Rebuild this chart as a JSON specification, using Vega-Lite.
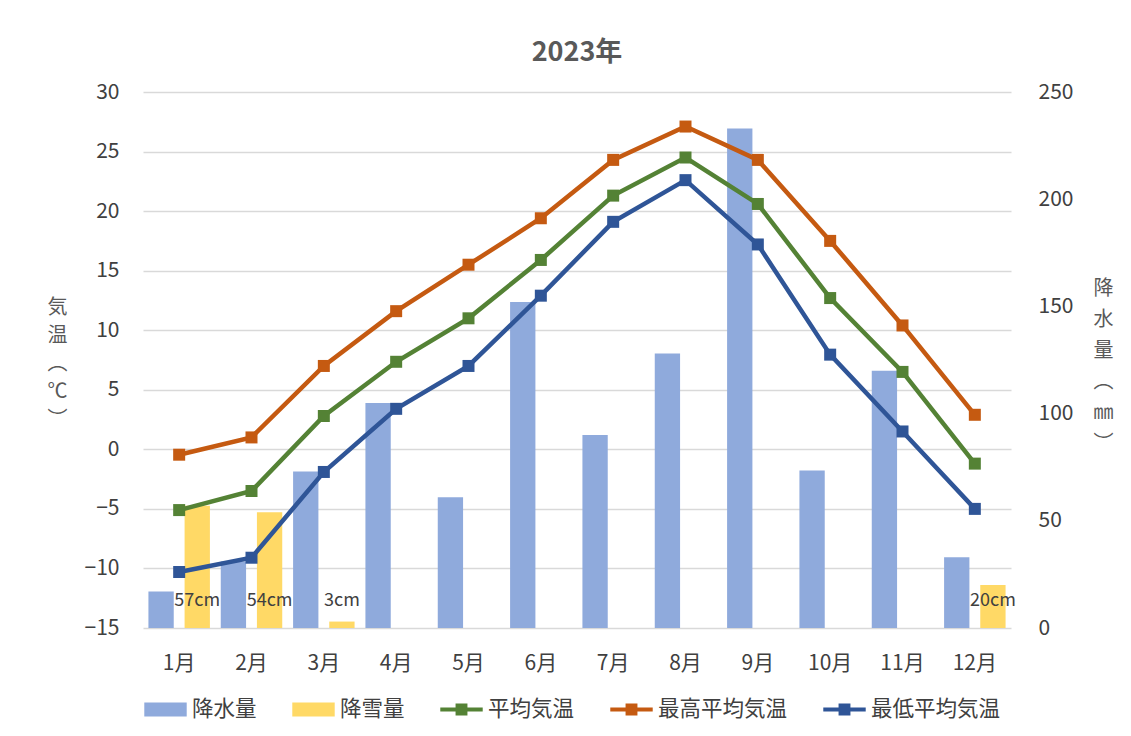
{
  "$schema": "https://vega.github.io/schema/vega-lite/v6.json",
  "width": 868,
  "height": 536,
  "autosize": {"type": "none"},
  "padding": {"left": 143, "top": 92, "right": 120, "bottom": 108},
  "background": "white",
  "title": {"text": "2023年", "fontSize": 27, "fontWeight": "bold", "color": "#595959", "font": "Noto Sans CJK JP", "anchor": "middle", "frame": "group", "offset": 14},
  "config": {
    "view": {"stroke": null},
    "font": "Noto Sans CJK JP",
    "axis": {
      "labelFont": "Noto Sans CJK JP",
      "labelFontSize": 21,
      "labelColor": "#404040",
      "domain": false,
      "ticks": false,
      "gridColor": "#d9d9d9",
      "gridWidth": 1.3,
      "titleFont": "Noto Sans CJK JP",
      "titleFontSize": 20,
      "titleFontWeight": "normal",
      "titleColor": "#595959"
    }
  },
  "datasets": {
    "precip": [
      {"month": "1月", "series": "降水量", "mm": 17},
      {"month": "1月", "series": "降雪量", "mm": 57},
      {"month": "2月", "series": "降水量", "mm": 31},
      {"month": "2月", "series": "降雪量", "mm": 54},
      {"month": "3月", "series": "降水量", "mm": 73},
      {"month": "3月", "series": "降雪量", "mm": 3},
      {"month": "4月", "series": "降水量", "mm": 105},
      {"month": "5月", "series": "降水量", "mm": 61},
      {"month": "6月", "series": "降水量", "mm": 152},
      {"month": "7月", "series": "降水量", "mm": 90},
      {"month": "8月", "series": "降水量", "mm": 128},
      {"month": "9月", "series": "降水量", "mm": 233},
      {"month": "10月", "series": "降水量", "mm": 73.5},
      {"month": "11月", "series": "降水量", "mm": 120},
      {"month": "12月", "series": "降水量", "mm": 33},
      {"month": "12月", "series": "降雪量", "mm": 20}
    ],
    "temps": [
      {"month": "1月", "series": "平均気温", "temp": -5.1},
      {"month": "2月", "series": "平均気温", "temp": -3.5},
      {"month": "3月", "series": "平均気温", "temp": 2.8},
      {"month": "4月", "series": "平均気温", "temp": 7.35},
      {"month": "5月", "series": "平均気温", "temp": 11.0},
      {"month": "6月", "series": "平均気温", "temp": 15.9},
      {"month": "7月", "series": "平均気温", "temp": 21.3},
      {"month": "8月", "series": "平均気温", "temp": 24.5},
      {"month": "9月", "series": "平均気温", "temp": 20.6},
      {"month": "10月", "series": "平均気温", "temp": 12.7},
      {"month": "11月", "series": "平均気温", "temp": 6.5},
      {"month": "12月", "series": "平均気温", "temp": -1.2},
      {"month": "1月", "series": "最高平均気温", "temp": -0.45},
      {"month": "2月", "series": "最高平均気温", "temp": 1.0},
      {"month": "3月", "series": "最高平均気温", "temp": 7.0},
      {"month": "4月", "series": "最高平均気温", "temp": 11.6},
      {"month": "5月", "series": "最高平均気温", "temp": 15.5},
      {"month": "6月", "series": "最高平均気温", "temp": 19.4},
      {"month": "7月", "series": "最高平均気温", "temp": 24.3},
      {"month": "8月", "series": "最高平均気温", "temp": 27.1},
      {"month": "9月", "series": "最高平均気温", "temp": 24.3},
      {"month": "10月", "series": "最高平均気温", "temp": 17.5},
      {"month": "11月", "series": "最高平均気温", "temp": 10.4},
      {"month": "12月", "series": "最高平均気温", "temp": 2.9},
      {"month": "1月", "series": "最低平均気温", "temp": -10.3},
      {"month": "2月", "series": "最低平均気温", "temp": -9.1},
      {"month": "3月", "series": "最低平均気温", "temp": -1.9},
      {"month": "4月", "series": "最低平均気温", "temp": 3.4},
      {"month": "5月", "series": "最低平均気温", "temp": 7.0},
      {"month": "6月", "series": "最低平均気温", "temp": 12.9},
      {"month": "7月", "series": "最低平均気温", "temp": 19.1},
      {"month": "8月", "series": "最低平均気温", "temp": 22.6},
      {"month": "9月", "series": "最低平均気温", "temp": 17.2},
      {"month": "10月", "series": "最低平均気温", "temp": 7.95},
      {"month": "11月", "series": "最低平均気温", "temp": 1.5},
      {"month": "12月", "series": "最低平均気温", "temp": -5.0}
    ]
  },
  "resolve": {"scale": {"y": "independent"}},
  "layer": [
    {
      "data": {"name": "precip"},
      "layer": [
        {
          "mark": {"type": "bar"},
          "encoding": {
            "x": {"field": "month", "type": "nominal", "sort": ["1月","2月","3月","4月","5月","6月","7月","8月","9月","10月","11月","12月"], "scale": {"paddingInner": 0.15, "paddingOuter": 0.075}, "axis": {"title": null, "labelAngle": 0, "labelPadding": 24}},
            "xOffset": {"field": "series", "type": "nominal", "scale": {"domain": ["降水量", "降雪量"], "paddingInner": 0.3, "paddingOuter": 0}},
            "y": {"field": "mm", "type": "quantitative", "scale": {"domain": [0, 250], "nice": false}, "axis": {"orient": "right", "values": [0, 50, 100, 150, 200, 250], "grid": false, "labelPadding": 27, "title": ["降", "水", "量", "︵", "㎜", "︶"], "titleAngle": 0, "titleX": 92, "titleY": 196, "titleAlign": "center", "titleBaseline": "middle", "titleLineHeight": 31}},
            "color": {
              "field": "series",
              "type": "nominal",
              "scale": {"domain": ["降水量", "降雪量", "平均気温", "最高平均気温", "最低平均気温"], "range": ["#8FAADC", "#FFD966", "#548235", "#C55A11", "#2F5597"]},
              "legend": {
                "orient": "none",
                "legendX": 1,
                "legendY": 596,
                "direction": "horizontal",
                "columns": 5,
                "title": null,
                "labelFont": "Noto Sans CJK JP",
                "labelFontSize": 21.5,
                "labelColor": "#404040",
                "labelOffset": 5,
                "symbolSize": 1800,
                "columnPadding": 35,
                "encode": {
                  "symbols": {
                    "update": {
                      "shape": {"signal": "indexof(['降水量','降雪量'], datum.value) >= 0 ? 'M-1,-0.33H1V0.33H-1Z' : 'M-1,-0.09H1V0.09H-1Z M-0.28,-0.28H0.28V0.28H-0.28Z'"},
                      "size": {"value": 1800},
                      "fill": {"scale": "color", "field": "value"},
                      "strokeWidth": {"value": 0},
                      "opacity": {"value": 1}
                    }
                  }
                }
              }
            }
          }
        },
        {
          "transform": [
            {"filter": "datum.series === '降雪量'"},
            {"calculate": "datum.mm + 'cm'", "as": "label"}
          ],
          "mark": {"type": "text", "fontSize": 18, "color": "#404040", "baseline": "middle", "dy": -27},
          "encoding": {
            "x": {"field": "month", "type": "nominal", "sort": ["1月","2月","3月","4月","5月","6月","7月","8月","9月","10月","11月","12月"]},
            "xOffset": {"field": "series", "type": "nominal"},
            "y": {"datum": 0, "type": "quantitative"},
            "text": {"field": "label", "type": "nominal"}
          }
        }
      ]
    },
    {
      "data": {"name": "temps"},
      "layer": [
        {
          "mark": {"type": "line", "strokeWidth": 4.5},
          "encoding": {
            "x": {"field": "month", "type": "nominal", "sort": ["1月","2月","3月","4月","5月","6月","7月","8月","9月","10月","11月","12月"]},
            "y": {"field": "temp", "type": "quantitative", "scale": {"domain": [-15, 30], "nice": false}, "axis": {"orient": "left", "values": [-15, -10, -5, 0, 5, 10, 15, 20, 25, 30], "grid": true, "labelPadding": 24, "title": ["気", "温", "︵", "℃", "︶"], "titleAngle": 0, "titleX": -86, "titleY": 215, "titleAlign": "center", "titleBaseline": "middle", "titleLineHeight": 28}},
            "color": {"field": "series", "type": "nominal"}
          }
        },
        {
          "mark": {"type": "point", "shape": "square", "filled": true, "size": 144, "opacity": 1},
          "encoding": {
            "x": {"field": "month", "type": "nominal", "sort": ["1月","2月","3月","4月","5月","6月","7月","8月","9月","10月","11月","12月"]},
            "y": {"field": "temp", "type": "quantitative"},
            "color": {"field": "series", "type": "nominal"}
          }
        }
      ]
    }
  ]
}
